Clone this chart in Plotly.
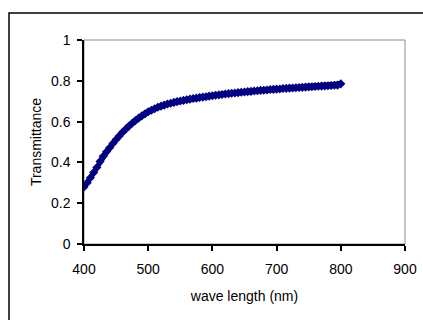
import plotly.graph_objects as go

wavelength = list(range(400, 805, 5))
transmittance = [
    0.280, 0.300, 0.325, 0.350, 0.375, 0.405, 0.430, 0.452, 0.472, 0.493,
    0.512, 0.530, 0.548, 0.563, 0.578, 0.592, 0.605, 0.617, 0.628, 0.638,
    0.648, 0.656, 0.663, 0.670, 0.676, 0.681, 0.686, 0.690, 0.694, 0.698,
    0.701, 0.704, 0.707, 0.710, 0.713, 0.715, 0.718, 0.720, 0.722, 0.725,
    0.727, 0.729, 0.731, 0.733, 0.735, 0.737, 0.739, 0.740, 0.742, 0.744,
    0.745, 0.747, 0.748, 0.750, 0.751, 0.753, 0.754, 0.755, 0.757, 0.758,
    0.759, 0.760, 0.762, 0.763, 0.764, 0.765, 0.766, 0.767, 0.768, 0.769,
    0.770, 0.771, 0.772, 0.773, 0.774, 0.775, 0.776, 0.777, 0.778, 0.779,
    0.785,
]
x_ticks = [400, 500, 600, 700, 800, 900]
y_ticks = [0, 0.2, 0.4, 0.6, 0.8, 1]
y_tick_labels = ["0", "0.2", "0.4", "0.6", "0.8", "1"]

fig = go.Figure()
fig.add_trace(go.Scatter(
    x=wavelength, y=transmittance, mode="lines+markers",
    line=dict(color="#000080", width=5),
    marker=dict(symbol="diamond", size=7, color="#000080"),
    showlegend=False,
))

tick_font = dict(family="Liberation Sans, Arial, sans-serif", size=14, color="black")
title_font = dict(family="Liberation Sans, Arial, sans-serif", size=14, color="black")
fig.update_layout(
    width=423, height=320,
    margin=dict(l=84, r=18, t=40, b=76),
    paper_bgcolor="white", plot_bgcolor="white",
    font=tick_font,
    shapes=[
        dict(type="rect", xref="paper", yref="paper", x0=0, y0=0, x1=1, y1=1,
             line=dict(color="#8c8c8c", width=1), layer="below"),
        dict(type="rect", xref="paper", yref="paper", x0=-0.2336, y0=-0.8,
             x1=1.4, y1=1.132, line=dict(color="black", width=1.5)),
    ],
)
fig.update_xaxes(
    range=[400, 900], tickvals=x_ticks, showgrid=False, zeroline=False,
    automargin=False,
    showline=True, linecolor="black", linewidth=1.5,
    ticks="outside", ticklen=5, tickcolor="black", tickwidth=1.5,
    ticklabelstandoff=6, tickfont=tick_font,
    title=dict(text="wave length (nm)", standoff=16, font=title_font),
)
fig.update_yaxes(
    range=[0, 1], tickvals=y_ticks, ticktext=y_tick_labels, showgrid=False,
    automargin=False,
    zeroline=False, showline=True, linecolor="black", linewidth=1.5,
    ticks="outside", ticklen=5, tickcolor="black", tickwidth=1.5,
    ticklabelstandoff=4, tickfont=tick_font,
    title=dict(text="Transmittance", standoff=6, font=title_font),
)
fig.write_html(
    "out.html",
    config={"displayModeBar": False},
    post_script="document.body.style.margin='0';document.body.style.overflow='hidden';",
)
